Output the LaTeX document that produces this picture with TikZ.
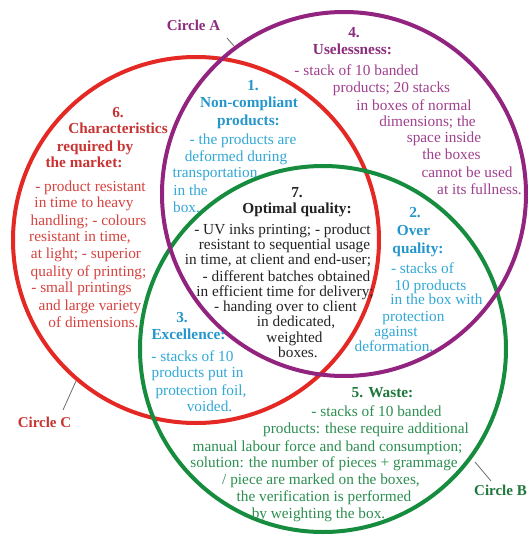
\documentclass[tikz,border=0pt]{standalone}
\usepackage{fontspec}
\setmainfont{Liberation Serif}
\definecolor{cred}{RGB}{228,40,36}
\definecolor{cpurple}{RGB}{146,36,128}
\definecolor{cgreen}{RGB}{22,140,62}
\definecolor{tred}{RGB}{214,66,62}
\definecolor{tredb}{RGB}{200,52,50}
\definecolor{tpurple}{RGB}{160,64,142}
\definecolor{tpurpleb}{RGB}{140,44,124}
\definecolor{tgreen}{RGB}{44,142,80}
\definecolor{tgreenb}{RGB}{30,120,60}
\definecolor{tcyan}{RGB}{50,168,214}
\definecolor{tcyanb}{RGB}{36,150,204}
\definecolor{tblack}{RGB}{35,35,35}
\definecolor{leader}{RGB}{110,110,110}
\begin{document}
\begin{tikzpicture}[x=1pt,y=-1pt,
  txt/.style={anchor=base,inner sep=0pt,font=\fontsize{15.3}{16}\selectfont},
  ring/.style={line width=4pt},
  clabel/.style={inner sep=0pt,font=\fontsize{15}{16}\selectfont\bfseries},
  leaderline/.style={leader,line width=0.8pt}]
\useasboundingbox (0,0) rectangle (528,536);
\fill[white] (0,0) rectangle (528,536);
% circles
\coordinate (cC) at (196,240);
\coordinate (cA) at (344,194);
\coordinate (cB) at (323,349);
\draw[ring,cred] (cC) circle[radius=183];
\draw[ring,cgreen] (cB) circle[radius=183];
\draw[ring,cpurple] (cA) circle[radius=182];
% circle labels
\node[clabel,anchor=base,text=tpurpleb] (labA) at (193.5,30) {Circle A};
\node[clabel,anchor=base,text=tredb] (labC) at (44.5,427) {Circle C};
\node[clabel,anchor=base east,text=tgreenb] (labB) at (527,495) {Circle B};
\coordinate (pA1) at (227,38); \coordinate (pA2) at (234,46);
\coordinate (pC1) at (63,410); \coordinate (pC2) at (76,381);
\coordinate (pB1) at (491,481); \coordinate (pB2) at (475,462);
\draw[leaderline] (pA1) -- (pA2);
\draw[leaderline] (pC1) -- (pC2);
\draw[leaderline] (pB1) -- (pB2);
% block 6
\foreach \px/\py/\tx [count=\i] in {
  118/117/{\textbf{6.}}, 118/133/{\textbf{Characteristics}}, 95/151/{\textbf{required by}}, 84/167/{\textbf{the market:}}}
  \node[txt,text=tredb] (six-t\i) at (\px,\py) {\tx};
\foreach \px/\py/\tx [count=\i] in {
  90.5/191/{- product resistant}, 84/207/{in time to heavy}, 88.5/225/{handling; - colours},
  80/241/{resistant in time,}, 86/258/{at light; - superior}, 88.5/276/{quality of printing;},
  81.5/292/{- small printings}, 90/310/{and large variety}, 93.5/327/{of dimensions.}}
  \node[txt,text=tred] (six-\i) at (\px,\py) {\tx};
% block 1
\foreach \px/\py/\tx [count=\i] in {
  253/90/{\textbf{1.}}, 249/107/{\textbf{Non-compliant}}, 248.5/125/{\textbf{products:}}}
  \node[txt,text=tcyanb] (one-t\i) at (\px,\py) {\tx};
\foreach \px/\py/\tx [count=\i] in {
  243/144/{- the products are}, 236/161/{deformed during}, 215/177/{transportation},
  190.5/195/{in the}, 186.5/212/{box.}}
  \node[txt,text=tcyan] (one-\i) at (\px,\py) {\tx};
% block 7
\foreach \px/\py/\tx [count=\i] in {
  297/197/{\textbf{7.}}, 297/213/{\textbf{Optimal quality:}},
  282.5/234/{- UV inks printing; - product}, 284.5/249/{resistant to sequential usage},
  278/264/{in time, at client and end-user;}, 286.5/281/{- different batches obtained},
  285/296/{in efficient time for delivery;}, 285.5/311/{- handing over to client},
  296/326/{in dedicated,}, 294.5/342/{weighted}, 298/357/{boxes.}}
  \node[txt,text=tblack] (seven-\i) at (\px,\py) {\tx};
% block 4
\foreach \px/\py/\tx [count=\i] in {
  354/37/{\textbf{4.}}, 352.5/54/{\textbf{Uselessness:}}}
  \node[txt,text=tpurpleb] (four-t\i) at (\px,\py) {\tx};
\foreach \px/\py/\tx [count=\i] in {
  356.5/75/{- stack of 10 banded}, 391.5/92/{products; 20 stacks}, 414/110/{in boxes of normal},
  427.5/126/{dimensions; the}, 444/142/{space inside}, 451.5/159/{the boxes},
  467/177/{cannot be used}, 479.5/194/{at its fullness.}}
  \node[txt,text=tpurple] (four-\i) at (\px,\py) {\tx};
% block 2
\foreach \px/\py/\tx [count=\i] in {
  415/217/{\textbf{2.}}, 413.5/235/{\textbf{Over}}, 418/253/{\textbf{quality:}}}
  \node[txt,text=tcyanb] (two-t\i) at (\px,\py) {\tx};
\foreach \px/\py/\tx [count=\i] in {
  422.5/273/{- stacks of}, 430.5/290/{10 products}, 436.5/304/{in the box with},
  413.5/321/{protection}, 396/336/{against}, 394/351/{deformation.}}
  \node[txt,text=tcyan] (two-\i) at (\px,\py) {\tx};
% block 3
\foreach \px/\py/\tx [count=\i] in {
  182/322/{\textbf{3.}}, 188.5/339/{\textbf{Excellence:}}}
  \node[txt,text=tcyanb] (three-t\i) at (\px,\py) {\tx};
\foreach \px/\py/\tx [count=\i] in {
  192.5/361/{- stacks of 10}, 197.5/377/{products put in}, 201/395/{protection foil,},
  209.5/411/{voided.}}
  \node[txt,text=tcyan] (three-\i) at (\px,\py) {\tx};
% block 5
\node[txt,text=tgreenb] (five-t1) at (382.5,397) {\textbf{5. Waste:}};
\foreach \px/\py/\tx [count=\i] in {
  376.5/416/{- stacks of 10 banded}, 366/433/{products: these require additional},
  327.5/451/{manual labour force and band consumption;},
  324/467/{solution: the number of pieces + grammage},
  321/484/{{/ piece are marked on the boxes,}}, 324/501/{the verification is performed},
  318.5/518/{by weighting the box.}}
  \node[txt,text=tgreen] (five-\i) at (\px,\py) {\tx};
\end{tikzpicture}
\end{document}
